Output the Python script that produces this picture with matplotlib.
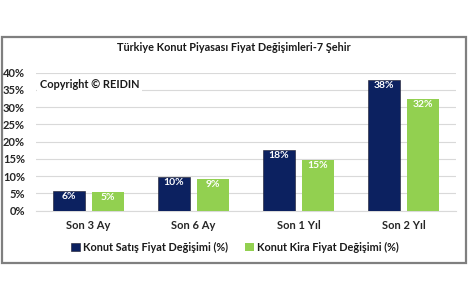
import numpy as np
import matplotlib
matplotlib.use('Agg')
import matplotlib.pyplot as plt
from matplotlib.patches import Rectangle

# data
categories = ['Son 3 Ay', 'Son 6 Ay', 'Son 1 Yıl', 'Son 2 Yıl']
satis = [5.6, 9.9, 17.7, 37.9]
kira = [5.3, 9.2, 14.7, 32.4]
satis_labels = ['6%', '10%', '18%', '38%']
kira_labels = ['5%', '9%', '15%', '32%']
series_names = ['Konut Satış Fiyat Değişimi (%)', 'Konut Kira Fiyat Değişimi (%)']
yticks = [0, 5, 10, 15, 20, 25, 30, 35, 40]

dark = '#0c2160'
green = '#92d050'
plt.rcParams['font.family'] = ['Lato', 'DejaVu Sans']

W, H = 468, 300
fig = plt.figure(figsize=(W / 100, H / 100), dpi=100)
fig.patch.set_facecolor('white')

# grey frame round the chart
fig.add_artist(Rectangle((2 / W, 1 - 263 / H), 464 / W, 226 / H,
                         transform=fig.transFigure, fill=False,
                         edgecolor='#7f7f7f', linewidth=1.6))

ax = fig.add_axes([36 / W, 1 - 210.7 / H, 420 / W, 138 / H])
x = np.arange(len(categories))
w = 0.305
off = 0.185
b1 = ax.bar(x - off, satis, w, color=dark, edgecolor='#1a1a2a', linewidth=0.4, zorder=3)
b2 = ax.bar(x + off, kira, w, color=green, zorder=3)

for bars, labs in ((b1, satis_labels), (b2, kira_labels)):
    for b, lab in zip(bars, labs):
        ax.text(b.get_x() + b.get_width() / 2, b.get_height() - 0.3, lab,
                ha='center', va='top', color='white', fontsize=7.5,
                fontweight='bold', zorder=4)

ax.set_xlim(-0.5, 3.5)
ax.set_ylim(0, 40)
ax.set_yticks(yticks)
ax.set_yticklabels([f'{t}%' for t in yticks])
ax.set_xticks(x)
ax.set_xticklabels(categories)
ax.yaxis.grid(True, color='#d9d9d9', linewidth=0.8, zorder=0)
for s in ax.spines.values():
    s.set_visible(False)
ax.spines['bottom'].set_visible(True)
ax.spines['bottom'].set_color('#d9d9d9')
ax.tick_params(length=0, labelsize=8, colors='#262626')
for t in ax.get_xticklabels() + ax.get_yticklabels():
    t.set_fontweight('bold')
ax.tick_params(axis='y', pad=8)
ax.tick_params(axis='x', pad=7)

fig.text(234 / W, 1 - 47 / H, 'Türkiye Konut Piyasası Fiyat Değişimleri-7 Şehir',
         ha='center', va='center', fontsize=7.8, fontweight='bold', color='#1a1a1a')
ax.text(40 / W, 1 - 85 / H, 'Copyright © REIDIN', transform=fig.transFigure,
        ha='left', va='center', fontsize=7.9, fontweight='bold', color='#1a1a1a',
        bbox=dict(facecolor='white', edgecolor='none', pad=2), zorder=5)

leg = fig.legend([b1, b2], series_names, loc='center', bbox_to_anchor=(235 / W, 1 - 247 / H),
                 ncol=2, frameon=False, fontsize=7.8, handlelength=0.8, handleheight=0.8,
                 handletextpad=0.3, columnspacing=1.6)
for t in leg.get_texts():
    t.set_fontweight('bold')
    t.set_color('#1a1a1a')

fig.savefig('out.png', dpi=100)
